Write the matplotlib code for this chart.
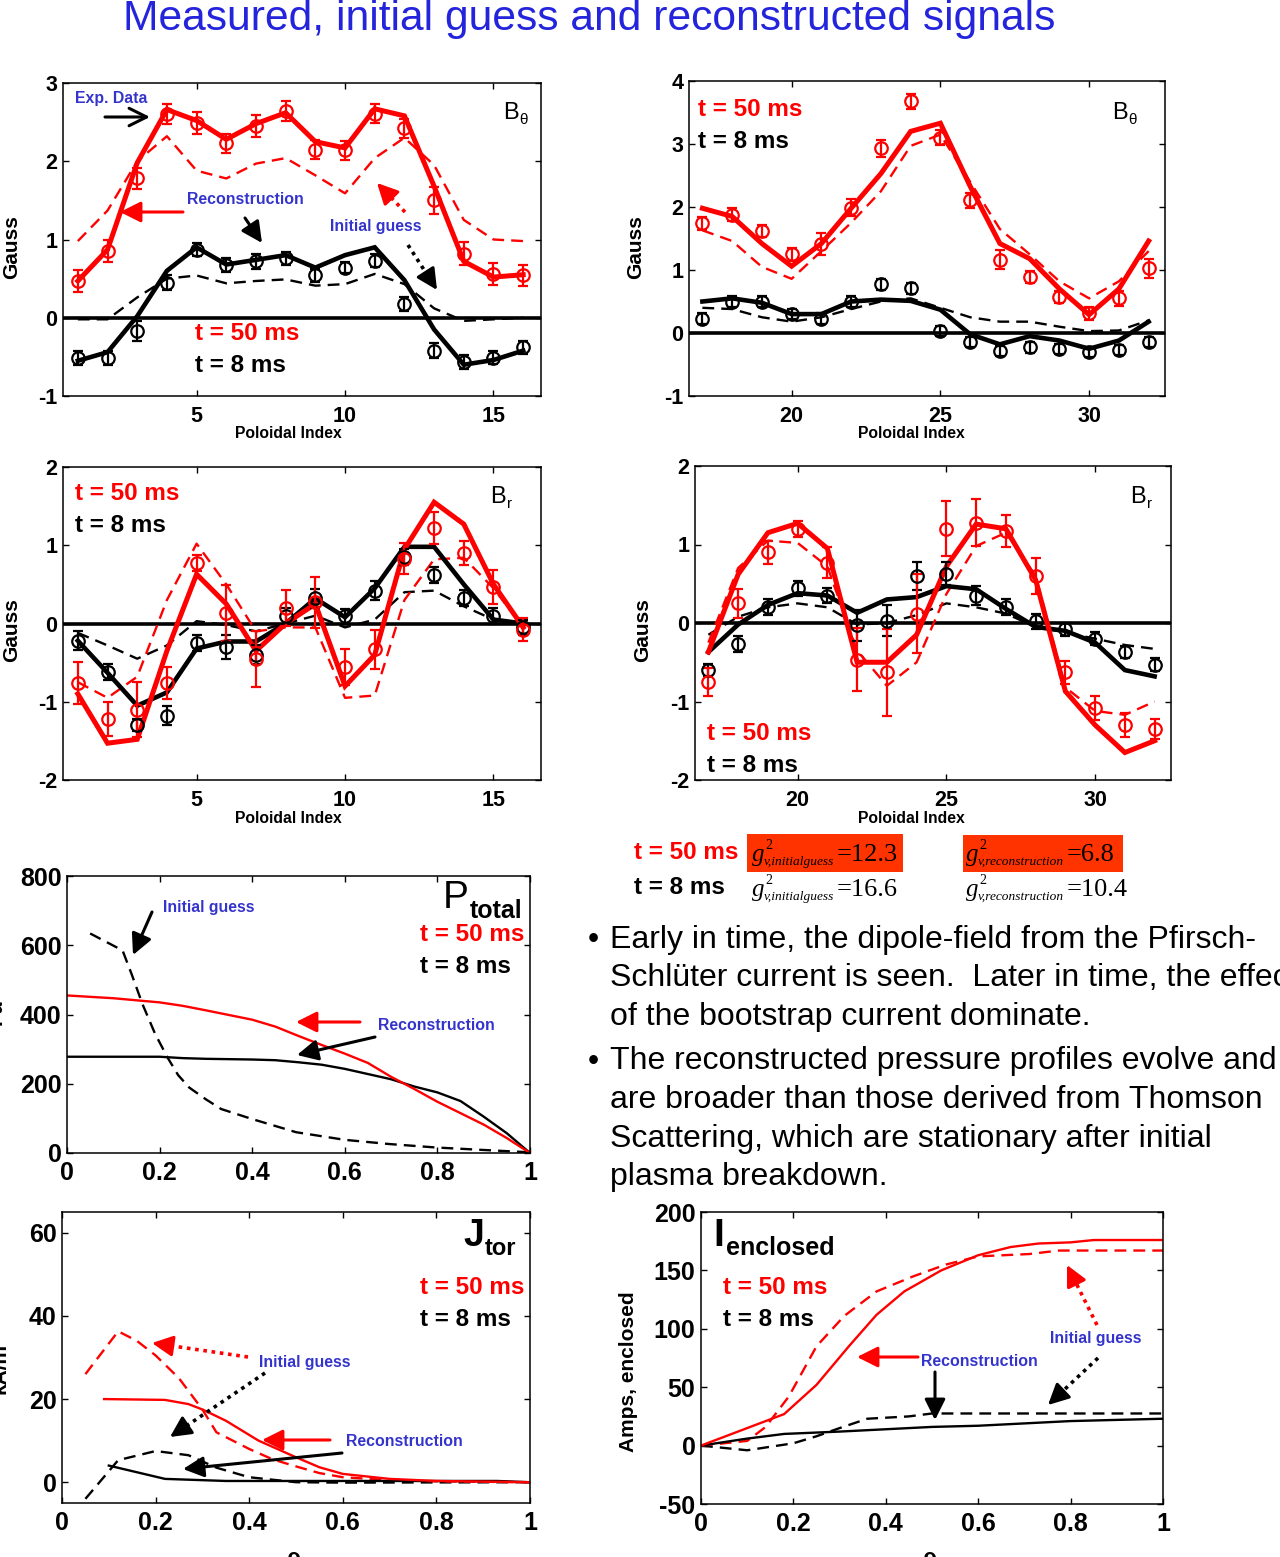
import math
import matplotlib
matplotlib.use('Agg')
import matplotlib.pyplot as plt
from matplotlib.patches import FancyArrowPatch, Rectangle
from matplotlib.lines import Line2D

plt.rcParams['font.family'] = ['Liberation Sans', 'DejaVu Sans']

W, H = 1280, 1557
RED = '#ff0000'
BLUE = '#3434cc'

# ---- B_theta, probes 1-16
idx_a = list(range(1, 17))
bt1_exp50 = [0.47, 0.85, 1.78, 2.60, 2.49, 2.23, 2.45, 2.64, 2.15, 2.14, 2.61, 2.42, 1.50, 0.82, 0.56, 0.54]
bt1_err50 = [0.14, 0.14, 0.14, 0.13, 0.14, 0.12, 0.14, 0.13, 0.12, 0.12, 0.12, 0.12, 0.17, 0.15, 0.14, 0.14]
bt1_rec50 = [0.47, 0.87, 1.98, 2.66, 2.52, 2.28, 2.48, 2.62, 2.25, 2.17, 2.67, 2.58, 1.68, 0.72, 0.52, 0.55]
bt1_ini50 = [0.98, 1.37, 2.00, 2.32, 1.88, 1.78, 1.97, 2.04, 1.82, 1.59, 2.04, 2.30, 1.95, 1.25, 1.00, 0.98]
bt1_exp8 = [-0.51, -0.51, -0.17, 0.45, 0.87, 0.67, 0.72, 0.76, 0.54, 0.64, 0.73, 0.17, -0.42, -0.56, -0.51, -0.38]
bt1_err8 = [0.09, 0.09, 0.13, 0.10, 0.08, 0.09, 0.10, 0.08, 0.08, 0.07, 0.08, 0.09, 0.10, 0.09, 0.08, 0.08]
bt1_rec8 = [-0.55, -0.44, 0.02, 0.60, 0.90, 0.68, 0.74, 0.80, 0.64, 0.80, 0.90, 0.48, -0.15, -0.60, -0.54, -0.42]
bt1_ini8 = [-0.02, -0.02, 0.26, 0.50, 0.54, 0.44, 0.47, 0.49, 0.41, 0.43, 0.56, 0.43, 0.12, -0.04, -0.02, 0.00]

# ---- B_theta, probes 17-32
idx_b = list(range(17, 33))
bt2_exp50 = [1.74, 1.88, 1.62, 1.25, 1.41, 1.99, 2.93, 3.68, 3.10, 2.11, 1.16, 0.89, 0.57, 0.31, 0.55, 1.03]
bt2_err50 = [0.10, 0.10, 0.10, 0.10, 0.17, 0.13, 0.14, 0.12, 0.12, 0.12, 0.15, 0.10, 0.10, 0.10, 0.12, 0.15]
bt2_rec50 = [1.98, 1.85, 1.42, 1.06, 1.42, 1.98, 2.53, 3.20, 3.33, 2.33, 1.42, 1.18, 0.70, 0.29, 0.70, 1.46]
bt2_ini50 = [1.63, 1.46, 1.05, 0.86, 1.30, 1.75, 2.25, 2.97, 3.15, 2.40, 1.65, 1.25, 0.82, 0.55, 0.82, 1.30]
bt2_exp8 = [0.23, 0.50, 0.50, 0.30, 0.23, 0.50, 0.77, 0.71, 0.03, -0.15, -0.28, -0.23, -0.25, -0.30, -0.27, -0.15]
bt2_err8 = [0.09, 0.08, 0.08, 0.08, 0.08, 0.08, 0.09, 0.09, 0.08, 0.08, 0.08, 0.08, 0.08, 0.08, 0.08, 0.08]
bt2_rec8 = [0.50, 0.55, 0.48, 0.30, 0.30, 0.50, 0.53, 0.51, 0.37, -0.02, -0.18, -0.05, -0.12, -0.25, -0.12, 0.18]
bt2_ini8 = [0.40, 0.38, 0.25, 0.18, 0.25, 0.38, 0.50, 0.55, 0.40, 0.25, 0.18, 0.18, 0.10, 0.03, 0.04, 0.20]

# ---- B_r, probes 1-16
br1_exp50 = [-0.76, -1.22, -1.10, -0.76, 0.77, 0.13, -0.45, 0.20, 0.27, -0.55, -0.33, 0.83, 1.22, 0.90, 0.47, -0.08]
br1_err50 = [0.27, 0.22, 0.35, 0.21, 0.10, 0.36, 0.36, 0.23, 0.33, 0.23, 0.25, 0.20, 0.20, 0.15, 0.22, 0.15]
br1_rec50 = [-0.90, -1.53, -1.48, -0.35, 0.63, 0.25, -0.35, 0.00, 0.25, -0.80, -0.40, 0.95, 1.55, 1.27, 0.50, -0.05]
br1_ini50 = [-0.75, -0.95, -0.68, 0.30, 1.02, 0.50, -0.10, -0.05, -0.05, -0.95, -0.92, 0.30, 0.82, 0.84, 0.45, -0.05]
br1_exp8 = [-0.22, -0.62, -1.30, -1.18, -0.25, -0.30, -0.40, 0.10, 0.32, 0.09, 0.42, 0.85, 0.62, 0.33, 0.10, -0.05]
br1_err8 = [0.12, 0.10, 0.08, 0.12, 0.10, 0.15, 0.12, 0.10, 0.12, 0.10, 0.12, 0.10, 0.10, 0.10, 0.10, 0.10]
br1_rec8 = [-0.22, -0.63, -1.05, -0.88, -0.32, -0.23, -0.23, 0.00, 0.32, 0.08, 0.45, 0.98, 0.98, 0.50, 0.05, 0.00]
br1_ini8 = [-0.12, -0.28, -0.45, -0.28, 0.03, -0.02, -0.10, 0.00, 0.10, -0.05, 0.05, 0.40, 0.42, 0.22, 0.05, 0.00]

# ---- B_r, probes 17-32
br2_exp50 = [-0.75, 0.25, 0.90, 1.20, 0.77, -0.47, -0.63, 0.12, 1.20, 1.28, 1.17, 0.60, -0.63, -1.08, -1.30, -1.35]
br2_err50 = [0.18, 0.18, 0.15, 0.10, 0.20, 0.40, 0.55, 0.50, 0.35, 0.30, 0.20, 0.23, 0.15, 0.15, 0.15, 0.13]
br2_rec50 = [-0.37, 0.62, 1.15, 1.27, 0.95, -0.50, -0.50, -0.15, 0.72, 1.26, 1.20, 0.55, -0.87, -1.30, -1.65, -1.50]
br2_ini50 = [-0.25, 0.70, 1.05, 1.02, 0.72, -0.35, -0.80, -0.50, 0.37, 0.98, 1.15, 0.60, -0.82, -1.12, -1.17, -1.00]
br2_exp8 = [-0.60, -0.27, 0.20, 0.44, 0.35, -0.03, 0.03, 0.60, 0.63, 0.35, 0.20, 0.02, -0.08, -0.20, -0.37, -0.53]
br2_err8 = [0.08, 0.10, 0.10, 0.10, 0.10, 0.20, 0.20, 0.18, 0.15, 0.12, 0.10, 0.10, 0.08, 0.08, 0.08, 0.08]
br2_rec8 = [-0.37, -0.02, 0.23, 0.38, 0.35, 0.13, 0.30, 0.33, 0.47, 0.43, 0.18, -0.05, -0.10, -0.25, -0.60, -0.68]
br2_ini8 = [-0.15, 0.08, 0.20, 0.25, 0.20, -0.02, 0.00, 0.10, 0.25, 0.20, 0.12, -0.05, -0.12, -0.20, -0.28, -0.33]

# ---- P_total profiles
rho_p = [0, 0.1, 0.2, 0.25, 0.3, 0.4, 0.45, 0.5, 0.55, 0.6, 0.65, 0.7, 0.75, 0.8, 0.85, 0.9, 0.95, 1.0]
p50_rec = [455, 447, 435, 425, 412, 385, 365, 338, 312, 287, 260, 220, 185, 148, 115, 82, 43, 0]
p8_rec = [278, 278, 278, 274, 272, 270, 268, 262, 255, 243, 228, 213, 192, 175, 150, 105, 57, 0]
rho_pi = [0.05, 0.12, 0.14, 0.163, 0.19, 0.217, 0.24, 0.264, 0.3, 0.333, 0.4, 0.495, 0.6, 0.695, 0.796, 0.896, 1.0]
p8_ini = [634, 585, 515, 430, 345, 276, 225, 189, 155, 127, 98, 60, 38, 26, 16, 9, 2]

# ---- J_tor profiles
rho_j50r = [0.09, 0.22, 0.27, 0.3, 0.35, 0.42, 0.5, 0.55, 0.6, 0.7, 0.8, 1.0]
j50_rec = [20, 19.8, 18.8, 17.5, 14.8, 10, 6, 3.6, 2.0, 0.8, 0.3, 0.0]
rho_j50i = [0.05, 0.12, 0.16, 0.2, 0.25, 0.3, 0.33, 0.4, 0.45, 0.5, 0.55, 0.6, 0.7, 0.8, 1.0]
j50_ini = [26, 36.3, 34, 30.5, 25, 17.5, 12, 8, 5.5, 3.8, 2.2, 1.2, 0.5, 0.2, 0.0]
rho_j8r = [0.1, 0.22, 0.35, 0.5, 0.7, 0.93, 1.0]
j8_rec = [4, 0.8, 0.3, 0.3, 0.3, 0.3, 0.0]
rho_j8i = [0.05, 0.12, 0.2, 0.27, 0.33, 0.4, 0.5, 0.6, 1.0]
j8_ini = [-4, 5.3, 7.5, 6.5, 3.5, 1.2, 0.0, -0.1, 0.0]

# ---- I_enclosed profiles
rho_i50r = [0, 0.18, 0.25, 0.32, 0.38, 0.44, 0.52, 0.6, 0.67, 0.73, 0.8, 0.85, 1.0]
i50_rec = [0, 27, 52, 85, 112, 132, 150, 163, 170, 173, 174, 176, 176]
rho_i50i = [0, 0.1, 0.14, 0.19, 0.25, 0.31, 0.38, 0.46, 0.53, 0.6, 0.71, 0.775, 1.0]
i50_ini = [0, 4, 16, 42, 85, 111, 132, 145, 155, 162, 164, 167, 167]
rho_i8r = [0, 0.1, 0.18, 0.3, 0.4, 0.5, 0.6, 0.7, 0.8, 0.9, 1.0]
i8_rec = [0, 6, 10, 12, 14, 16, 17, 19, 21, 22, 23]
rho_i8i = [0, 0.1, 0.2, 0.25, 0.3, 0.36, 0.45, 0.5, 1.0]
i8_ini = [0, -4, 2, 8, 15, 23, 25, 27.5, 27.5]

# goodness of fit numbers
g_ini = ['12.3', '16.6']
g_rec = ['6.8', '10.4']

bullets = [
    ["Early in time, the dipole-field from the Pfirsch-",
     "Schlüter current is seen.  Later in time, the effects",
     "of the bootstrap current dominate."],
    ["The reconstructed pressure profiles evolve and",
     "are broader than those derived from Thomson",
     "Scattering, which are stationary after initial",
     "plasma breakdown."],
]

fig = plt.figure(figsize=(W / 100, H / 100), dpi=100)
fig.canvas.draw()
rend = fig.canvas.get_renderer()


def new_ax(l, t, r, b):
    return fig.add_axes([l / W, 1 - b / H, (r - l) / W, (b - t) / H])


def fp(x, y):
    return (x / W, 1 - y / H)


def ftext(x, y, s, **kw):
    kw.setdefault('ha', 'left')
    kw.setdefault('va', 'center')
    return fig.text(x / W, 1 - y / H, s, **kw)


def right_of(t):
    return t.get_window_extent(renderer=rend).x1


def arrow(x0, y0, x1, y1, color, ls='-', head='-|>'):
    st = head + ',head_length=0.9,head_width=0.45'
    if ls != '-':
        # dotted shaft, solid head
        L = math.hypot(x1 - x0, y1 - y0)
        hx, hy = x1 - (x1 - x0) * 16 / L, y1 - (y1 - y0) * 16 / L
        fig.add_artist(Line2D([x0 / W, hx / W], [1 - y0 / H, 1 - hy / H],
                              transform=fig.transFigure, color=color, lw=2.6,
                              linestyle=(0, (1, 1.3))))
        x0, y0 = hx, hy
    fig.add_artist(FancyArrowPatch(fp(x0, y0), fp(x1, y1), transform=fig.transFigure,
                                   arrowstyle=st, mutation_scale=14, color=color,
                                   lw=2.2, shrinkA=0, shrinkB=0))


def sub_label(x, y, main, sub, ms, ss, mw='normal', sw='bold', dy=6, gap=1):
    t = ftext(x, y, main, fontsize=ms, fontweight=mw, va='baseline')
    ftext(right_of(t) + gap, y + dy, sub, fontsize=ss, fontweight=sw, va='baseline')


def style(ax, xt, yt, xlim, ylim, fs, xpad, ypad):
    ax.set_xlim(*xlim)
    ax.set_ylim(*ylim)
    ax.set_xticks(xt, ['%g' % v for v in xt], fontweight='bold', fontsize=fs)
    ax.set_yticks(yt, ['%g' % v for v in yt], fontweight='bold', fontsize=fs)
    ax.tick_params(direction='in', length=4, width=1, top=True, right=True)
    ax.tick_params(axis='x', pad=xpad)
    ax.tick_params(axis='y', pad=ypad)
    for s in ax.spines.values():
        s.set_linewidth(1.1)


def signal_panel(ax, x, rec50, ini50, exp50, err50, rec8, ini8, exp8, err8):
    ax.axhline(0, color='k', lw=2.6)
    ax.plot(x, ini8, color='k', lw=1.7, dashes=(5, 3))
    ax.plot(x, ini50, color=RED, lw=1.7, dashes=(5, 3))
    ax.plot(x, rec8, color='k', lw=3.3, solid_joinstyle='miter')
    ax.plot(x, rec50, color=RED, lw=3.6, solid_joinstyle='miter')
    for y, e, c in ((exp8, err8, 'k'), (exp50, err50, RED)):
        ax.errorbar(x, y, yerr=e, fmt='o', mfc='none', mec=c, ecolor=c,
                    ms=9, mew=1.6, capsize=3.5, elinewidth=1.6, capthick=1.6)


# ---------- top-left: B_theta 1-16
ax1 = new_ax(63, 83, 541, 396)
signal_panel(ax1, idx_a, bt1_rec50, bt1_ini50, bt1_exp50, bt1_err50,
             bt1_rec8, bt1_ini8, bt1_exp8, bt1_err8)
style(ax1, [5, 10, 15], [-1, 0, 1, 2, 3], (0.5, 16.6), (-1, 3), 15.5, 7, 4)

# ---------- top-right: B_theta 17-32
ax2 = new_ax(689, 81, 1165, 396)
signal_panel(ax2, idx_b, bt2_rec50, bt2_ini50, bt2_exp50, bt2_err50,
             bt2_rec8, bt2_ini8, bt2_exp8, bt2_err8)
style(ax2, [20, 25, 30], [-1, 0, 1, 2, 3, 4], (16.55, 32.55), (-1, 4), 15.5, 7, 4)

# ---------- middle-left: B_r 1-16
ax3 = new_ax(63, 467, 541, 780)
signal_panel(ax3, idx_a, br1_rec50, br1_ini50, br1_exp50, br1_err50,
             br1_rec8, br1_ini8, br1_exp8, br1_err8)
style(ax3, [5, 10, 15], [-2, -1, 0, 1, 2], (0.5, 16.6), (-2, 2), 15.5, 7, 4)

# ---------- middle-right: B_r 17-32
ax4 = new_ax(695, 466, 1171, 780)
signal_panel(ax4, idx_b, br2_rec50, br2_ini50, br2_exp50, br2_err50,
             br2_rec8, br2_ini8, br2_exp8, br2_err8)
style(ax4, [20, 25, 30], [-2, -1, 0, 1, 2], (16.55, 32.55), (-2, 2), 15.5, 7, 4)

# ---------- P_total
ax5 = new_ax(67, 876, 530, 1153)
ax5.plot(rho_pi, p8_ini, color='k', lw=1.7, dashes=(5, 3))
ax5.plot(rho_p, p8_rec, color='k', lw=1.7)
ax5.plot(rho_p, p50_rec, color=RED, lw=1.7)
style(ax5, [0, 0.2, 0.4, 0.6, 0.8, 1], [0, 200, 400, 600, 800], (0, 1), (0, 800), 18, 6, 4)

# ---------- J_tor
ax6 = new_ax(62, 1212, 530, 1503)
ax6.plot(rho_j8i, j8_ini, color='k', lw=1.7, dashes=(5, 3))
ax6.plot(rho_j50i, j50_ini, color=RED, lw=1.7, dashes=(5, 3))
ax6.plot(rho_j8r, j8_rec, color='k', lw=1.7)
ax6.plot(rho_j50r, j50_rec, color=RED, lw=1.7)
style(ax6, [0, 0.2, 0.4, 0.6, 0.8, 1], [0, 20, 40, 60], (0, 1), (-5, 65), 18, 6, 4)

# ---------- I_enclosed
ax7 = new_ax(701, 1212, 1163, 1504)
ax7.plot(rho_i8i, i8_ini, color='k', lw=1.7, dashes=(5, 3))
ax7.plot(rho_i50i, i50_ini, color=RED, lw=1.7, dashes=(5, 3))
ax7.plot(rho_i8r, i8_rec, color='k', lw=1.7)
ax7.plot(rho_i50r, i50_rec, color=RED, lw=1.7)
style(ax7, [0, 0.2, 0.4, 0.6, 0.8, 1], [-50, 0, 50, 100, 150, 200], (0, 1), (-50, 200), 18, 6, 4)

# ---------- axis labels
for x, y in ((12, 247), (636, 247), (12, 630), (643, 630)):
    ftext(x, y, 'Gauss', fontsize=15, fontweight='bold', rotation=90, ha='center')
for x, y in ((288, 434), (911, 434), (288, 818), (911, 818)):
    ftext(x, y, 'Poloidal Index', fontsize=11.3, fontweight='bold', ha='center')
ftext(-4, 1012, 'Pa', fontsize=15, fontweight='bold', rotation=90, ha='center')
ftext(0, 1368, 'kA/m', fontsize=15, fontweight='bold', rotation=90, ha='center')
ftext(628, 1372, 'Amps, enclosed', fontsize=15, fontweight='bold', rotation=90, ha='center')
for x in (294, 930):
    ftext(x, 1564, 'ρ', fontsize=16, fontweight='bold', ha='center', va='baseline')

# ---------- time labels
for x, y in ((195, 334), (698, 110), (75, 494), (707, 734), (420, 935), (420, 1287), (723, 1287)):
    ftext(x, y, 't = 50 ms', fontsize=17.5, fontweight='bold', color=RED)
    ftext(x, y + 32, 't = 8 ms', fontsize=17.5, fontweight='bold', color='k')

# ---------- field component labels
sub_label(503, 119, 'B', 'θ', 17, 11, sw='normal', dy=5)
sub_label(1112, 119, 'B', 'θ', 17, 11, sw='normal', dy=5)
sub_label(490, 503, 'B', 'r', 17, 11, sw='normal', dy=5)
sub_label(1130, 503, 'B', 'r', 17, 11, sw='normal', dy=5)
sub_label(443, 908, 'P', 'total', 28, 18, dy=10)
sub_label(463, 1246, 'J', 'tor', 27, 17, mw='bold', dy=9)
sub_label(713, 1246, 'I', 'enclosed', 28, 18, mw='bold', dy=9, gap=2)

# ---------- annotations
ann = dict(fontsize=11.4, fontweight='bold', color=BLUE)
ftext(75, 98, 'Exp. Data', **ann)
ftext(187, 200, 'Reconstruction', **ann)
ftext(330, 226, 'Initial guess', **ann)
arrow(105, 117, 150, 117, 'k', head='->')
arrow(183, 212, 120, 212, RED)
arrow(245, 218, 262, 243, 'k')
arrow(405, 212, 377, 183, RED, ls=':')
arrow(408, 245, 437, 290, 'k', ls=':')

ftext(163, 907, 'Initial guess', **ann)
arrow(152, 912, 133, 955, 'k')
ftext(378, 1026, 'Reconstruction', **ann)
arrow(360, 1022, 296, 1022, RED)
arrow(375, 1037, 297, 1055, 'k')

ftext(259, 1362, 'Initial guess', **ann)
arrow(248, 1357, 152, 1343, RED, ls=':')
arrow(265, 1373, 170, 1437, 'k', ls=':')
ftext(346, 1442, 'Reconstruction', **ann)
arrow(330, 1440, 262, 1440, RED)
arrow(342, 1453, 183, 1469, 'k')

ftext(921, 1362, 'Reconstruction', **ann)
arrow(918, 1357, 857, 1357, RED)
arrow(935, 1372, 935, 1420, 'k')
ftext(1050, 1339, 'Initial guess', **ann)
arrow(1097, 1325, 1067, 1265, RED, ls=':')
arrow(1098, 1358, 1048, 1405, 'k', ls=':')

# ---------- goodness of fit table
for l, t, r, b in ((747, 834, 903, 872), (963, 835, 1123, 872)):
    fig.add_artist(Rectangle(fp(l, b), (r - l) / W, (b - t) / H,
                             transform=fig.transFigure, facecolor='#ff3300',
                             edgecolor='none', zorder=0))
serif = dict(family='Liberation Serif')


def g_value(x, y, sub, val):
    g = ftext(x, y, 'g', fontsize=18, style='italic', va='baseline', **serif)
    gx = right_of(g)
    ftext(gx + 1, y - 12, '2', fontsize=10, va='baseline', **serif)
    s = ftext(gx - 1, y + 4, sub, fontsize=9.6, style='italic', va='baseline', **serif)
    ftext(right_of(s) + 3, y, '=' + val, fontsize=19, va='baseline', **serif)


for row, (y, col) in enumerate(((853, RED), (888, 'k'))):
    ftext(634, y, ['t = 50 ms', 't = 8 ms'][row], fontsize=17.5, fontweight='bold', color=col)
    g_value(752, y + 8, 'v,initialguess', g_ini[row])
    g_value(966, y + 8, 'v,reconstruction', g_rec[row])

# ---------- bullet text
y = 940
for para in bullets:
    ftext(588, y, '•', fontsize=23)
    for line in para:
        ftext(610, y, line, fontsize=23)
        y += 38.5
    y += 6

# ---------- title
ftext(589, 19, 'Measured, initial guess and reconstructed signals',
      fontsize=30.7, color='#2424dd', ha='center')

fig.savefig('out.png', dpi=100)
